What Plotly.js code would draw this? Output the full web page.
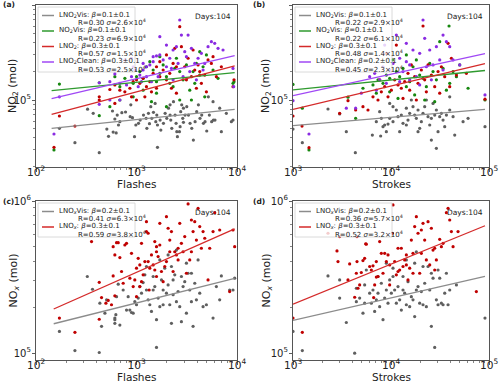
<!DOCTYPE html>
<html>
<head>
<meta charset="utf-8">
<script src="https://cdn.plot.ly/plotly-3.0.1.min.js"></script>
<style>
  body { margin: 0; background: #fff; }
  #chart { width: 500px; height: 382px; }
</style>
</head>
<body>
<div id="chart"></div>
<script>
// ---- panel (a): NO2 vs flashes ----
var aGrayX = [171,244,426,326,371,507,527,586,628,662,683,715,778,865,912,609,643,577,878,985,955,1047,1087,1174,1247,1315,1387,1475,1532,1592,1617,1718,1746,1854,1927,2001,2080,2158,2193,2244,2333,2421,2477,2518,2553,2674,2716,2754,2818,2884,2931,3041,3162,3289,3412,3548,3681,3828,3972,4130,4285,4457,4634,4808,5000,5188,5309,5598,5821,6039,1617,1268,1346,1420,1556,2158,2931,9127,8790,7835,6728,6989,5777];
var aGrayY = [50300,35600,27900,80000,72400,49500,41500,46000,45000,54600,59200,73600,74800,66800,65200,63100,69500,76600,89000,54600,41100,56800,61500,69500,64100,72400,85000,74200,92000,69500,54600,61500,48300,56800,72400,64100,82000,89000,61500,50300,96000,69500,56800,46400,41100,46400,52400,75400,89000,64100,58200,69500,85000,69500,56800,50300,37900,59200,75400,89000,64100,69500,56800,59200,47200,108000,69500,59200,61500,61500,31800,50300,56300,64100,59200,69500,82000,61500,59200,72400,82000,46400,96000];
var aGreenX = [151,171,426,426,543,609,683,766,859,927,1000,1079,1164,1256,1357,1465,1581,1706,1841,1986,2143,2313,2496,2693,2908,3138,3387,3656,3946,4258,4596,4960,5777,6476,9127,9336,1409,1986,2693,3519,4775,1581,1164,2403,3798,1706,4258,683,927];
var aGreenY = [29800,147000,68400,152000,85000,176000,100000,169000,207000,150000,176000,199000,169000,224000,253000,207000,156000,191000,234000,176000,150000,138000,275000,199000,163000,234000,127000,199000,243000,183000,224000,298000,207000,169000,150000,156000,96000,85000,100000,100000,108000,118000,127000,215000,150000,286000,323000,138000,108000];
var aRedX = [151,171,244,426,426,543,609,683,766,859,927,1000,1079,1164,1256,1357,1465,1581,1706,1841,1986,2143,2313,2496,2693,2798,3020,3260,3519,3798,4099,4424,4775,5152,5561,6234,6989,9127,9336,1706,1581,1409,1211,2227,2496,3138,3946,4960,5777,892,1000,1986,2403,3656,609,4258];
var aRedY = [31800,67900,53200,100000,108000,129000,144000,127000,122000,133000,156000,163000,150000,169000,138000,156000,191000,224000,176000,207000,163000,191000,243000,224000,592000,364000,224000,275000,176000,207000,234000,150000,183000,264000,243000,176000,224000,138000,163000,253000,133000,122000,108000,133000,118000,163000,133000,122000,286000,108000,100000,298000,350000,336000,92000,199000];
var aPurpleX = [151,171,426,426,543,609,683,796,892,927,962,1079,1164,1256,1357,1465,1581,1706,1841,1986,2143,2313,2496,2693,2798,3020,3260,3519,3798,4099,4424,4775,5152,5561,6001,6476,7261,9127,9270,1706,1986,1465,1164,1409,1641,2227,2593,2908,3946,4596,892,1040,766,683,1256,543,1122,3387,2313,3138];
var aPurpleY = [43900,108000,152000,90000,156000,188000,150000,144000,176000,224000,207000,183000,207000,224000,234000,253000,291000,298000,264000,224000,275000,336000,364000,695000,483000,323000,483000,350000,243000,275000,310000,243000,364000,411000,395000,350000,336000,215000,138000,464000,379000,286000,243000,156000,176000,215000,243000,176000,163000,207000,275000,138000,264000,100000,176000,100000,156000,199000,163000,286000];
// fitted power laws: log10(y) = intercept + slope * log10(x)
var aSlopes = [0.11, 0.104, 0.28, 0.249];
var aIntercepts = [4.465, 4.874, 4.245, 4.477];
var aSpan = [143, 9480];
var aLabelTop = ['LNO<sub>2</sub>Vis: <i>β</i>=0.1±0.1', 'NO<sub>2</sub>Vis: <i>β</i>=0.1±0.1', 'LNO<sub>2</sub>: <i>β</i>=0.3±0.1', 'LNO<sub>2</sub>Clean: <i>β</i>=0.3±0.1'];
var aLabelBottom = ['R=0.30 <i>σ</i>=2.6×10<sup>4</sup>', 'R=0.23 <i>σ</i>=6.9×10<sup>4</sup>', 'R=0.57 <i>σ</i>=1.5×10<sup>4</sup>', 'R=0.53 <i>σ</i>=2.5×10<sup>4</sup>'];

// ---- panel (b): NO2 vs strokes ----
var bGrayX = [1000,1245,2276,2993,3501,4326,6450,7846,8288,8619,9322,9695,10480,11340,11790,12750,13260,14340,14910,15510,16770,17440,18140,18870,19620,20410,21220,22070,22950,23870,24830,25820,26850,27930,29040,30200,31410,32670,33970,35330,36750,39740,42980,29040,25820,44700,54370,61150,91000,39740,14340,10480,7662,7969,7084,8964,18870,12260,16130,9695];
var bGrayY = [49500,35600,80400,71300,46400,27900,42800,41800,52400,54600,55800,64100,59200,78500,66800,69500,56800,54600,61500,72400,85000,69500,64100,78500,50300,59200,72400,85000,100000,66800,54600,64100,92000,69500,78500,46400,66800,72400,61500,52400,69500,78500,66800,31000,37900,42800,59200,64100,52400,108000,82000,85000,75400,64100,59200,46400,46400,46400,100000,92000];
var bGreenX = [1000,1245,1456,3641,4357,5176,6550,7368,8288,8964,9695,10320,11340,12260,13260,14340,15510,16770,18140,19620,21220,22950,24830,26850,29040,31410,33970,36750,39110,42980,46490,50270,61150,91000,11790,9695,22070,27930,17440,14340,39740,7084];
var bGreenY = [146000,82000,29800,107000,64100,133000,144000,163000,150000,183000,169000,264000,199000,176000,215000,138000,156000,224000,264000,183000,169000,138000,243000,199000,163000,411000,215000,127000,601000,199000,176000,234000,133000,100000,104000,122000,100000,96000,113000,298000,150000,118000];
var bRedX = [1000,1236,1456,2993,3641,4357,5176,5824,6550,7368,7969,8619,9322,10080,10900,11790,12750,13790,14910,16130,17440,18870,20410,21220,22070,23870,25820,27930,30200,32670,35330,38210,41330,46490,58800,91000,11340,8964,15510,22950,13260,18140,31410,39740,7662];
var bRedY = [67900,53200,31500,72400,98400,78500,85000,78500,108000,100000,122000,138000,108000,127000,163000,144000,133000,156000,191000,234000,176000,150000,207000,601000,163000,234000,183000,138000,199000,224000,176000,395000,275000,183000,191000,102000,379000,310000,127000,122000,104000,100000,118000,138000,163000];
var bPurpleX = [1000,1456,3501,4357,4977,6058,6812,7662,8288,8619,9695,10480,11340,12260,13260,14340,15510,16770,18140,19620,21220,22950,24830,26850,29040,31410,33970,36750,39740,42980,50270,91000,12260,15510,19620,25820,33970,8964,7084,14340,22070];
var bPurpleY = [98400,43900,82000,82000,118000,176000,191000,163000,224000,379000,207000,243000,483000,275000,199000,253000,234000,336000,176000,310000,695000,224000,336000,234000,364000,264000,483000,411000,364000,264000,234000,113000,156000,163000,144000,163000,207000,150000,127000,395000,446000];
var bSlopes = [0.087, 0.104, 0.246, 0.226];
var bIntercepts = [4.469, 4.795, 4.163, 4.368];
var bSpan = [1000, 91000];
var bLabelTop = ['LNO<sub>2</sub>Vis: <i>β</i>=0.1±0.1', 'NO<sub>2</sub>Vis: <i>β</i>=0.1±0.1', 'LNO<sub>2</sub>: <i>β</i>=0.3±0.1', 'LNO<sub>2</sub>Clean: <i>β</i>=0.2±0.1'];
var bLabelBottom = ['R=0.22 <i>σ</i>=2.9×10<sup>4</sup>', 'R=0.22 <i>σ</i>=6.1×10<sup>4</sup>', 'R=0.48 <i>σ</i>=1.4×10<sup>4</sup>', 'R=0.45 <i>σ</i>=2.3×10<sup>4</sup>'];

// ---- panel (c): NOx vs flashes ----
var cGrayX = [171,244,324,365,426,432,449,485,504,609,609,609,623,633,658,683,737,796,826,859,892,927,962,1000,1040,1079,1122,1164,1211,1256,1306,1357,1409,1465,1521,1581,1581,1641,1706,1771,1841,1911,1986,2063,2143,2227,2313,2403,2496,2593,2693,2798,2908,3020,3138,3260,3387,3519,3656,3798,3946,4099,4258,4596,4960,5777,6234,6728,6989,8450,9127,9480,2496,2063,2227,1706,3138,1465,1256,1841,3519,2798,2313];
var cGrayY = [139000,104000,319000,263000,101000,213000,150000,183000,224000,157000,166000,170000,179000,235000,284000,153000,260000,192000,235000,192000,185000,183000,218000,208000,230000,274000,248000,291000,327000,260000,224000,208000,188000,260000,274000,109000,166000,230000,202000,303000,208000,362000,248000,281000,208000,157000,242000,327000,218000,254000,202000,161000,274000,295000,183000,335000,260000,218000,150000,288000,224000,410000,248000,202000,208000,170000,274000,224000,322000,260000,260000,311000,476000,442000,371000,410000,390000,319000,371000,260000,335000,319000,303000];
var cRedX = [171,244,357,426,426,449,496,523,564,586,609,586,609,633,658,683,710,737,766,796,859,927,962,1000,1040,1079,1122,1122,1164,1211,1256,1256,1306,1336,1357,1409,1465,1521,1581,1641,1706,1771,1841,1911,1986,2063,2143,2227,2313,2403,2496,2593,2693,2798,2908,3020,3138,3260,3387,3519,3656,3798,3946,4099,4258,4424,4596,4775,5152,5353,5777,6001,6728,8450,9127,9480,892,1079,1521,1986,1000,1581,2593,3519,1581,1306,1706,2143];
var cRedY = [170000,137000,541000,292000,167000,232000,213000,222000,208000,322000,238000,501000,442000,532000,532000,425000,344000,288000,514000,527000,311000,274000,303000,362000,420000,380000,527000,295000,327000,400000,731000,630000,614000,260000,362000,442000,380000,541000,319000,431000,713000,344000,295000,371000,789000,662000,554000,630000,344000,464000,442000,410000,713000,527000,464000,584000,335000,956000,410000,750000,630000,731000,554000,895000,679000,489000,630000,569000,303000,489000,630000,838000,645000,254000,645000,501000,453000,274000,352000,400000,235000,501000,489000,464000,464000,400000,514000,464000];
var cSlopes = [0.166, 0.292];
var cIntercepts = [4.832, 4.655];
var cSpan = [150, 9480];
var cLabelTop = ['LNO<sub><i>x</i></sub>Vis: <i>β</i>=0.2±0.1', 'LNO<sub><i>x</i></sub>: <i>β</i>=0.3±0.1'];
var cLabelBottom = ['R=0.41 <i>σ</i>=6.3×10<sup>4</sup>', 'R=0.59 <i>σ</i>=3.8×10<sup>4</sup>'];

// ---- panel (d): NOx vs strokes ----
var dGrayX = [1000,1245,2276,2993,2993,3501,4259,4430,4430,4786,5176,5383,5383,5600,6058,6300,6550,6812,7084,7368,7662,7969,8288,8619,8964,9322,9695,10080,10480,10900,11340,11790,12260,12750,13260,13790,14340,14910,15510,16130,16770,17440,18140,18870,19620,20410,21220,22070,22950,23870,24830,25820,26850,27930,29040,30200,31410,32670,33970,35330,36750,38210,39740,46490,91000,18140,14340,10480,17440,25820,30200,8964,7368,13260,21220];
var dGrayY = [139000,104000,322000,230000,303000,159000,100000,267000,218000,230000,183000,213000,281000,352000,248000,213000,260000,188000,224000,248000,202000,288000,166000,230000,260000,213000,303000,248000,319000,260000,213000,274000,224000,192000,260000,248000,208000,295000,202000,235000,224000,174000,260000,274000,213000,254000,208000,288000,202000,371000,260000,150000,311000,109000,224000,208000,311000,213000,208000,248000,335000,208000,260000,281000,170000,464000,410000,362000,390000,335000,352000,390000,319000,319000,371000];
var dRedX = [1000,1245,2276,2812,2878,2993,3641,3786,4259,4430,4498,4498,4605,4786,4977,5176,5383,5512,5600,6058,6300,6550,6654,6812,7084,7368,7662,7969,8288,8619,8964,9322,9695,10320,10480,10900,11340,11790,12260,12750,13260,13790,14340,14910,15510,16130,16770,17440,18140,18870,19620,20410,21220,22070,22950,23870,24830,25820,26850,27930,29040,31410,32670,33970,36750,38210,39740,41330,42980,48300,74300,14340,9695,7084,11790,20410,16770,27930];
var dRedY = [170000,137000,614000,470000,400000,584000,303000,386000,233000,335000,400000,584000,267000,281000,339000,406000,420000,523000,520000,371000,352000,375000,232000,281000,316000,319000,541000,453000,335000,453000,400000,442000,380000,614000,942000,400000,327000,344000,352000,489000,371000,410000,380000,303000,362000,554000,453000,679000,789000,614000,335000,645000,713000,554000,410000,731000,380000,662000,476000,489000,410000,560000,501000,527000,838000,895000,750000,630000,501000,630000,254000,442000,281000,400000,489000,453000,335000,352000];
var dSlopes = [0.148, 0.263];
var dIntercepts = [4.771, 4.533];
var dSpan = [1000, 91000];
var dLabelTop = ['LNO<sub><i>x</i></sub>Vis: <i>β</i>=0.2±0.1', 'LNO<sub><i>x</i></sub>: <i>β</i>=0.3±0.1'];
var dLabelBottom = ['R=0.36 <i>σ</i>=5.7×10<sup>4</sup>', 'R=0.52 <i>σ</i>=3.2×10<sup>4</sup>'];

var W = 500, H = 382;
function px(x) { return x / W; }
function py(y) { return 1 - y / H; }

var lineColors = { gray: '#8c8c8c', green: '#2f9a2f', red: '#d42a2a', purple: '#a048f5' };
var dotColors = { gray: '#5f5f5f', green: '#16870f', red: '#c00000', purple: '#8a2be2' };
var FONT = 'DejaVu Sans, Arial, sans-serif';

var panels = [
  { tag: '(a)', tagx: 1, box: [36, 237, 5, 167], ytx: 13, xr: [2, 4], yr: [4.295, 6], xt: 'Flashes', yt: 'NO<sub>2</sub> (mol)',
    series: [[aGrayX, aGrayY, 'gray'], [aGreenX, aGreenY, 'green'], [aRedX, aRedY, 'red'], [aPurpleX, aPurpleY, 'purple']],
    slopes: aSlopes, ints: aIntercepts, span: aSpan, top: aLabelTop, bottom: aLabelBottom },
  { tag: '(b)', tagx: 251, box: [293, 489, 5, 167], ytx: 266, xr: [3, 5], yr: [4.295, 6], xt: 'Strokes', yt: 'NO<sub>2</sub> (mol)',
    series: [[bGrayX, bGrayY, 'gray'], [bGreenX, bGreenY, 'green'], [bRedX, bRedY, 'red'], [bPurpleX, bPurpleY, 'purple']],
    slopes: bSlopes, ints: bIntercepts, span: bSpan, top: bLabelTop, bottom: bLabelBottom },
  { tag: '(c)', tagx: 1, box: [36, 237, 201, 360], ytx: 13, xr: [2, 4], yr: [4.955, 6], xt: 'Flashes', yt: 'NO<sub><i>x</i></sub> (mol)',
    series: [[cGrayX, cGrayY, 'gray'], [cRedX, cRedY, 'red']],
    slopes: cSlopes, ints: cIntercepts, span: cSpan, top: cLabelTop, bottom: cLabelBottom },
  { tag: '(d)', tagx: 251, box: [293, 489, 201, 360], ytx: 266, xr: [3, 5], yr: [4.955, 6], xt: 'Strokes', yt: 'NO<sub><i>x</i></sub> (mol)',
    series: [[dGrayX, dGrayY, 'gray'], [dRedX, dRedY, 'red']],
    slopes: dSlopes, ints: dIntercepts, span: dSpan, top: dLabelTop, bottom: dLabelBottom }
];

var traces = [];
var shapes = [];
var annotations = [];
var layout = {
  width: W, height: H,
  margin: { l: 0, r: 0, t: 0, b: 0 },
  paper_bgcolor: '#fff', plot_bgcolor: '#fff',
  font: { family: FONT, color: '#222' },
  showlegend: false
};

function note(x, y, text, size, anchor, extra) {
  return Object.assign({ xref: 'paper', yref: 'paper', x: px(x), y: py(y), xanchor: anchor || 'left', yanchor: 'middle',
    text: text, showarrow: false, font: { size: size } }, extra || {});
}

panels.forEach(function (p, i) {
  var n = i === 0 ? '' : String(i + 1);
  var xa = 'x' + n, ya = 'y' + n;
  var L = p.box[0], R = p.box[1], T = p.box[2], B = p.box[3];

  // scatter points
  p.series.forEach(function (s) {
    traces.push({
      type: 'scatter', mode: 'markers', x: s[0], y: s[1], xaxis: xa, yaxis: ya,
      marker: { size: 3.2, color: dotColors[s[2]] }, hoverinfo: 'skip'
    });
  });
  // regression lines
  p.series.forEach(function (s, k) {
    traces.push({
      type: 'scatter', mode: 'lines', x: p.span, xaxis: xa, yaxis: ya,
      y: p.span.map(function (v) { return Math.pow(10, p.ints[k] + p.slopes[k] * Math.log10(v)); }),
      line: { color: lineColors[s[2]], width: 1.3 }, hoverinfo: 'skip'
    });
  });

  var common = {
    type: 'log', dtick: 1, exponentformat: 'power', showgrid: false, zeroline: false,
    showline: true, mirror: true, linecolor: '#555', linewidth: 1,
    ticks: 'outside', ticklen: 3.5, tickcolor: '#333', tickwidth: 0.8,
    tickfont: { size: 8.5, color: '#222' },
    minor: { ticks: 'outside', ticklen: 2, dtick: 'D1', tickcolor: '#333', tickwidth: 0.6 }
  };
  layout['xaxis' + n] = Object.assign({}, common, { domain: [px(L), px(R)], range: p.xr, anchor: ya, ticklabelstandoff: -8 });
  layout['yaxis' + n] = Object.assign({}, common, { domain: [py(B), py(T)], range: p.yr, anchor: xa, ticklabelstandoff: -1,
    tickfont: { size: 8, color: '#222' } });

  // axis titles, panel tag and day count
  annotations.push(note((L + R) / 2, B + 17, p.xt, 10.5, 'center'));
  annotations.push(note(p.ytx, (T + B) / 2, p.yt, 11, 'center', { textangle: -90 }));
  annotations.push(note(p.tagx, T, '<b>' + p.tag + '</b>', 7.5, 'left'));
  annotations.push(note(R - 4, T + 11, 'Days:104', 7.5, 'right'));

  // hand-drawn legend box
  var rows = p.series.length;
  shapes.push({ type: 'rect', xref: 'paper', yref: 'paper', layer: 'above',
    x0: px(L + 2), x1: px(L + 99), y0: py(T + 4 + rows * 15.5 + 1), y1: py(T + 2),
    fillcolor: 'rgba(255,255,255,0.8)', line: { color: '#d0d0d0', width: 0.8 } });
  p.series.forEach(function (s, k) {
    var y1 = T + 10 + k * 15.5;
    shapes.push({ type: 'line', xref: 'paper', yref: 'paper', layer: 'above',
      x0: px(L + 6), x1: px(L + 18), y0: py(y1 + 0.5), y1: py(y1 + 0.5),
      line: { color: lineColors[s[2]], width: 1.5 } });
    annotations.push(note(L + 21, y1, p.top[k], 7, 'left'));
    annotations.push(note(L + 40, y1 + 7.3, p.bottom[k], 7, 'left'));
  });
});

layout.shapes = shapes;
layout.annotations = annotations;

Plotly.newPlot('chart', traces, layout, { staticPlot: true, displayModeBar: false });
</script>
</body>
</html>
